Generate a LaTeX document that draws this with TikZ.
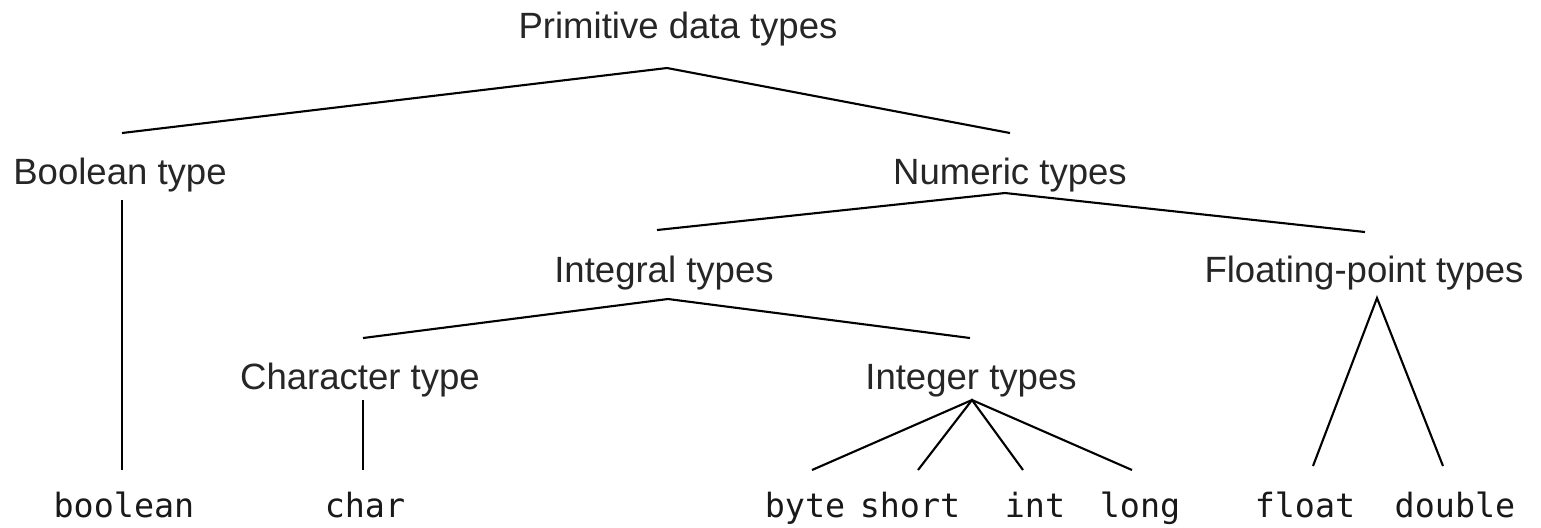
\documentclass[tikz,border=0pt]{standalone}
\usepackage{fontspec}
\setmainfont{Liberation Sans}
\setmonofont{DejaVu Sans Mono}
\tikzset{
  kind/.style={anchor=base, inner sep=0pt, text=black!85, font=\fontsize{10.4}{12}\selectfont},
  leaf/.style={anchor=base, inner sep=0pt, text=black!90, font=\ttfamily\fontsize{9.5}{11}\selectfont}
}

\begin{document}
\begin{tikzpicture}[line width=0.6pt]
            \useasboundingbox (0,0) rectangle (15.41,-5.27);
            % label positions
            \coordinate (P) at (6.78,-0.38);
            \coordinate (B) at (1.20,-1.84);
            \coordinate (N) at (10.10,-1.84);
            \coordinate (I) at (6.64,-2.82);
            \coordinate (F) at (13.64,-2.82);
            \coordinate (C) at (3.60,-3.89);
            \coordinate (T) at (9.71,-3.89);
            % line ends
            \coordinate (Pa) at (6.67,-0.68);
            \coordinate (Bt) at (1.22,-1.33);
            \coordinate (Bb) at (1.22,-2.00);
            \coordinate (Nt) at (10.10,-1.33);
            \coordinate (Na) at (10.05,-1.93);
            \coordinate (It) at (6.57,-2.30);
            \coordinate (Ia) at (6.68,-2.99);
            \coordinate (Ft) at (13.65,-2.32);
            \coordinate (Fa) at (13.77,-2.98);
            \coordinate (Ct) at (3.63,-3.38);
            \coordinate (Cb) at (3.63,-4.00);
            \coordinate (Tt) at (9.70,-3.38);
            \coordinate (Ta) at (9.72,-4.00);
            \coordinate (b1) at (1.22,-4.70);
            \coordinate (c1) at (3.63,-4.70);
            \coordinate (t1) at (8.12,-4.70);
            \coordinate (t2) at (9.18,-4.70);
            \coordinate (t3) at (10.23,-4.70);
            \coordinate (t4) at (11.32,-4.70);
            \coordinate (f1) at (13.13,-4.66);
            \coordinate (f2) at (14.43,-4.66);
            \node (prim) at (P) [kind] {Primitive data types};
            \node (bool) at (B) [kind] {Boolean type};
            \node (num) at (N) [kind] {Numeric types};
            \node (integral) at (I) [kind] {Integral types};
            \node (floating) at (F) [kind] {Floating-point types};
            \node (chartype) at (C) [kind] {Character type};
            \node (integer) at (T) [kind] {Integer types};
            \node (boolean) at (1.24,-5.17) [leaf] {boolean};
            \node (char) at (3.65,-5.17) [leaf] {char};
            \node (byte) at (8.05,-5.17) [leaf] {byte};
            \node (short) at (9.10,-5.17) [leaf] {short};
            \node (int) at (10.35,-5.17) [leaf] {int};
            \node (long) at (11.40,-5.17) [leaf] {long};
            \node (float) at (13.05,-5.17) [leaf] {float};
            \node (double) at (14.55,-5.17) [leaf] {double};
            \draw (Bt) -- (Pa) -- (Nt);
            \draw (Bb) -- (b1);
            \draw (It) -- (Na) -- (Ft);
            \draw (Ct) -- (Ia) -- (Tt);
            \draw (Cb) -- (c1);
            \draw (t1) -- (Ta) -- (t4);
            \draw (t2) -- (Ta) -- (t3);
            \draw (f1) -- (Fa) -- (f2);
        \end{tikzpicture}
\end{document}
